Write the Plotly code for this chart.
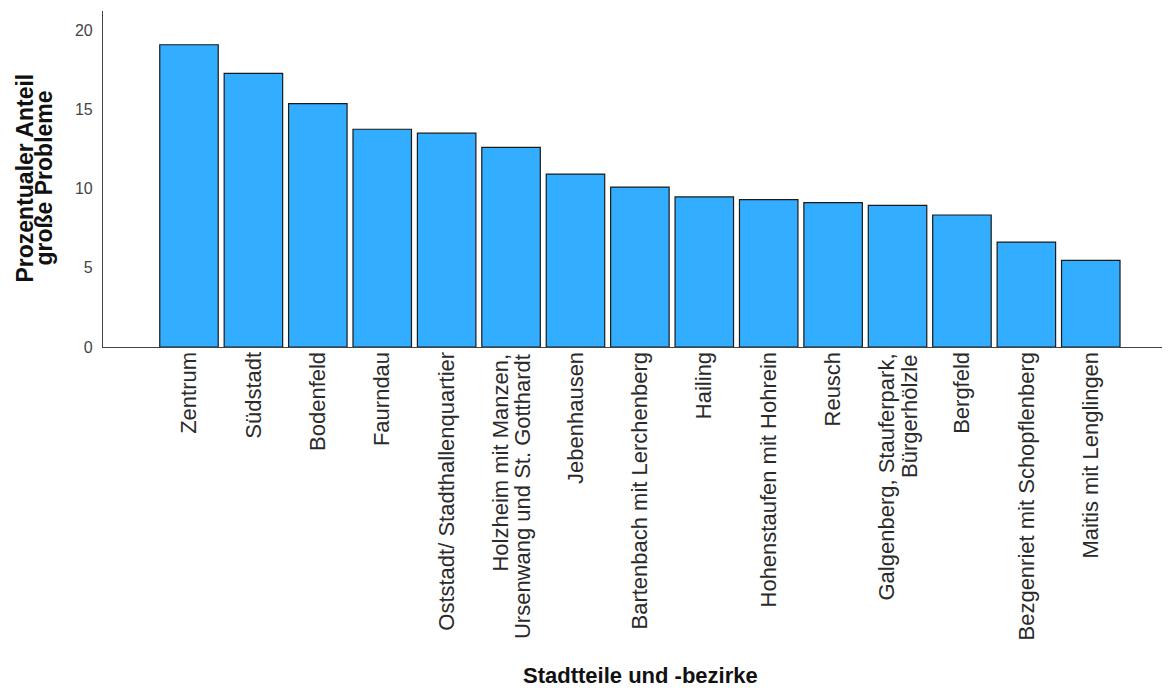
import plotly.graph_objects as go

categories = [
    "Zentrum",
    "Südstadt",
    "Bodenfeld",
    "Faurndau",
    "Oststadt/ Stadthallenquartier",
    "Holzheim mit Manzen, Ursenwang und St. Gotthardt",
    "Jebenhausen",
    "Bartenbach mit Lerchenberg",
    "Hailing",
    "Hohenstaufen mit Hohrein",
    "Reusch",
    "Galgenberg, Stauferpark, Bürgerhölzle",
    "Bergfeld",
    "Bezgenriet mit Schopflenberg",
    "Maitis mit Lenglingen",
]
# how each tick label is broken into lines (as in the reference)
label_lines = {
    "Holzheim mit Manzen, Ursenwang und St. Gotthardt":
        ["Holzheim mit Manzen,", "Ursenwang und St. Gotthardt"],
    "Galgenberg, Stauferpark, Bürgerhölzle":
        ["Galgenberg, Stauferpark,", "Bürgerhölzle"],
}
values = [19.07, 17.26, 15.36, 13.74, 13.49, 12.59, 10.91, 10.09, 9.47, 9.30,
          9.11, 8.94, 8.33, 6.62, 5.46]
y_ticks = [0, 5, 10, 15, 20]

# the page body has an 8px margin, so the figure starts at (8, 8)
OFF = 8
W, H = 1170 - OFF, 688 - OFF
L, R, T, B = 102.5 - OFF, 0, 10.5 - OFF, 340.5
pw = W - L - R
ph = H - T - B

fig = go.Figure(go.Bar(
    x=categories, y=values,
    marker=dict(color="#32adff", line=dict(color="#1a1a1a", width=1.2)),
))

def px_x(p):
    return (p - OFF - L) / pw

def px_y(p):
    return (H - B - (p - OFF)) / ph

tick_font = dict(family="Liberation Sans, Arial, sans-serif", size=22, color="#2a2a2a")
ticktext = ["" if c in label_lines else c for c in categories]

annotations = [
    dict(text="<b>Prozentualer Anteil</b>", xref="paper", yref="paper",
         x=px_x(24), y=px_y(178), xanchor="center", yanchor="middle",
         textangle=-90, showarrow=False, font=dict(size=23, color="#111")),
    dict(text="<b>große Probleme</b>", xref="paper", yref="paper",
         x=px_x(43), y=px_y(178), xanchor="center", yanchor="middle",
         textangle=-90, showarrow=False, font=dict(size=23, color="#111")),
    dict(text="<b>Stadtteile und -bezirke</b>", xref="paper", yref="paper",
         x=px_x(640), y=px_y(677), xanchor="center", yanchor="middle",
         showarrow=False, font=dict(size=22, color="#111")),
]
for c, lines in label_lines.items():
    n = len(lines)
    for i, line in enumerate(lines):
        annotations.append(dict(
            text=line, xref="x", yref="paper", x=c, y=0,
            xanchor="center", yanchor="top", textangle=-90,
            xshift=(i - (n - 1) / 2) * 23, yshift=-5,
            showarrow=False, font=tick_font,
        ))

fig.update_layout(
    width=W, height=H,
    margin=dict(l=L, r=R, t=T, b=B, pad=0),
    paper_bgcolor="white", plot_bgcolor="white",
    bargap=0.092,
    showlegend=False,
    font=dict(family="Liberation Sans, Arial, sans-serif", color="#222"),
    xaxis=dict(
        type="category",
        range=[-1.335, 15.23],
        tickvals=categories, ticktext=ticktext,
        showline=True, linecolor="#444", linewidth=1.2,
        showgrid=False, zeroline=False, ticks="",
        tickangle=-90,
        tickfont=tick_font,
        ticklabelstandoff=-5,
    ),
    yaxis=dict(
        range=[0, 21.2],
        tickvals=y_ticks,
        showline=True, linecolor="#444", linewidth=1.2,
        showgrid=False, zeroline=False, ticks="",
        tickfont=dict(size=16, color="#444"),
        ticklabelstandoff=6,
    ),
    annotations=annotations,
)

fig.write_html("out.html")
